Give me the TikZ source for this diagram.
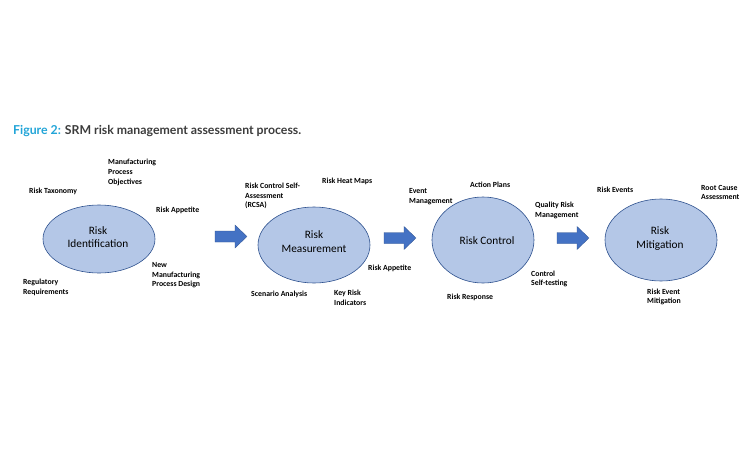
\documentclass[tikz,border=0pt]{standalone}
\usepackage{fontspec}
\setmainfont{Carlito}
\newfontfamily\titlefont{Lato}
\usetikzlibrary{shapes.geometric}
\definecolor{ellfill}{HTML}{B4C7E7}
\definecolor{elldraw}{HTML}{2F528F}
\definecolor{arrfill}{HTML}{4472C4}
\definecolor{titlecyan}{HTML}{22A5D8}
\definecolor{titlegrey}{HTML}{3C3C3C}
\tikzset{
  phase/.style={ellipse, draw=elldraw, line width=0.6pt, fill=ellfill, inner sep=0pt},
  etext/.style={align=center, inner sep=0pt, font=\fontsize{11.3}{13.5}\selectfont},
  lbl/.style={anchor=west, align=left, inner sep=0pt, font=\fontsize{7.8}{9.6}\selectfont\bfseries},
  blockarrow/.pic={
    \fill[arrfill, draw=elldraw, line width=0.3pt] (0,-5.5) -- (20,-5.5) -- (20,-11.5) -- (32,0) -- (20,11.5) -- (20,5.5) -- (0,5.5) -- cycle;
  }
}
\begin{document}
\begin{tikzpicture}[x=1pt,y=-1pt]
\useasboundingbox[fill=white] (0,0) rectangle (750,450);
% title
\node[anchor=west, inner sep=0pt, font=\titlefont\bfseries\fontsize{12.3}{14}\selectfont] (title) at (13,131)
  {\textcolor{titlecyan}{Figure 2:} \textcolor{titlegrey}{SRM risk management assessment process.}};
% ellipses
\node[phase, minimum width=112pt, minimum height=68pt] (e1) at (99,239) {};
\node[etext] (t1) at (98,237) {Risk\\Identification};
\node[phase, minimum width=112pt, minimum height=76pt] (e2) at (314,245) {};
\node[etext] (t2) at (314,241.5) {Risk\\Measurement};
\node[phase, minimum width=102pt, minimum height=86pt] (e3) at (483,240) {};
\node[etext] (t3) at (487,241) {Risk Control};
\node[phase, minimum width=112pt, minimum height=82pt] (e4) at (661,240) {};
\node[etext] (t4) at (660,238.5) {Risk\\Mitigation};
% block arrows
\pic at (215,236.5) {blockarrow};
\pic at (384,238) {blockarrow};
\pic at (557,238) {blockarrow};
% labels around Risk Identification
\node[lbl] (l1) at (108,172.5) {Manufacturing\\Process\\Objectives};
\node[lbl] (l2) at (29,191) {Risk Taxonomy};
\node[lbl] (l3) at (156,210) {Risk Appetite};
\node[lbl] (l4) at (152,275.5) {New\\Manufacturing\\Process Design};
\node[lbl] (l5) at (23,287.5) {Regulatory\\Requirements};
% labels around Risk Measurement
\node[lbl] (l6) at (245,196) {Risk Control Self-\\Assessment\\(RCSA)};
\node[lbl] (l7) at (322,181) {Risk Heat Maps};
\node[lbl] (l8) at (368,268.5) {Risk Appetite};
\node[lbl] (l9) at (251,294) {Scenario Analysis};
\node[lbl] (l10) at (334,297.5) {Key Risk\\Indicators};
% labels around Risk Control
\node[lbl] (l11) at (409,196.5) {Event\\Management};
\node[lbl] (l12) at (470,185) {Action Plans};
\node[lbl] (l13) at (535,210.5) {Quality Risk\\Management};
\node[lbl] (l14) at (531,279) {Control\\Self-testing};
\node[lbl] (l15) at (447,297) {Risk Response};
% labels around Risk Mitigation
\node[lbl] (l16) at (597,190) {Risk Events};
\node[lbl] (l17) at (701,192.5) {Root Cause\\Assessment};
\node[lbl] (l18) at (647,297) {Risk Event\\Mitigation};
\end{tikzpicture}
\end{document}
